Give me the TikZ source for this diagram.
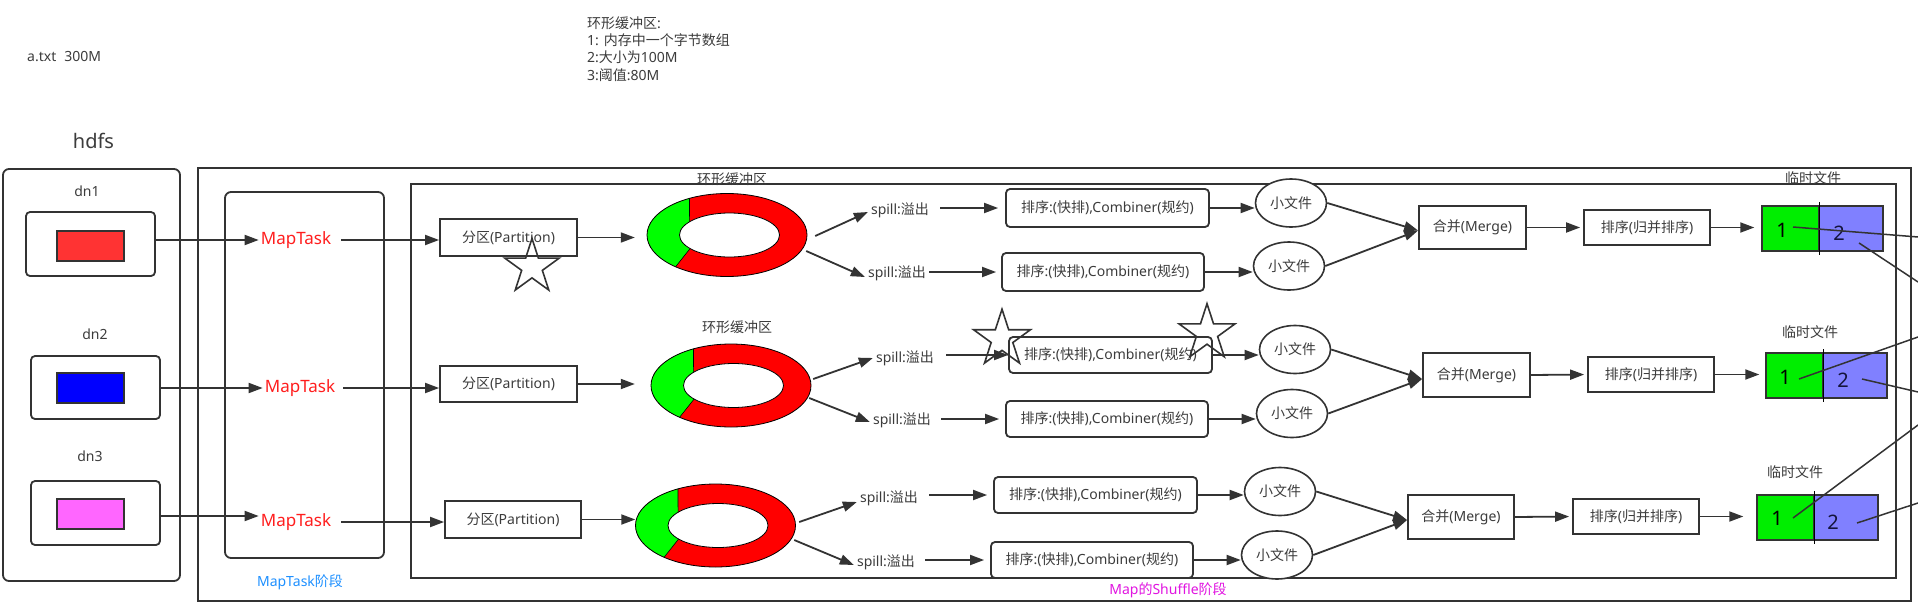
\documentclass[tikz,border=0pt]{standalone}
\usepackage{fontspec}
\setmainfont{Noto Sans}
\newfontfamily\cj{Noto Sans CJK SC}
\usetikzlibrary{arrows.meta,shapes.geometric,calc}

\definecolor{ink}{RGB}{51,51,51}
\definecolor{txt}{RGB}{60,60,60}
\definecolor{mtred}{RGB}{255,30,30}
\definecolor{mtblue}{RGB}{30,144,255}
\definecolor{shmag}{RGB}{225,20,225}
\definecolor{ringred}{RGB}{255,0,0}
\definecolor{ringgreen}{RGB}{0,255,0}
\definecolor{fgreen}{RGB}{0,238,0}
\definecolor{fblue}{RGB}{128,128,255}
\definecolor{dnred}{RGB}{255,51,51}
\definecolor{dnblue}{RGB}{0,0,255}
\definecolor{dnpink}{RGB}{255,102,255}
\definecolor{navy2}{RGB}{20,20,60}

\tikzset{
  lbl/.style={font=\fontsize{14}{17}\selectfont, text=txt, inner sep=2pt},
  spl/.style={lbl, inner sep=3pt},
  sqbox/.style={draw=ink, line width=1.8pt, inner sep=0pt, fill=white,
    font=\fontsize{14}{17}\selectfont, text=txt},
  rdbox/.style={sqbox, rounded corners=4pt},
  frame/.style={draw=ink, line width=1.8pt, inner sep=0pt},
  arr/.style={draw=ink, line width=1.8pt, -{Triangle[length=14pt,width=10pt]}},
  fileell/.style={ellipse, draw=ink, line width=1.6pt, fill=white,
    minimum width=71pt, minimum height=48pt, inner sep=0pt,
    font=\fontsize{14}{17}\selectfont, text=txt},
  starsty/.style={draw=ink, line width=1.6pt, line join=miter},
  xline/.style={draw=ink, line width=1.5pt},
  mtlbl/.style={font=\fontsize{17}{20}\selectfont, text=mtred, inner sep=2pt},
  numlbl/.style={font=\fontsize{20}{24}\selectfont, inner sep=1pt},
  gblk/.style={draw=ink, line width=1.4pt, fill=fgreen, minimum width=57pt, minimum height=45pt, inner sep=0pt},
  bblk/.style={draw=ink, line width=1.4pt, fill=fblue, minimum width=64pt, minimum height=45pt, inner sep=0pt},
}

\newcommand\ringbuf[3]{%
  \coordinate (#1c) at (#2,#3);
  \coordinate (#1i) at ({#2+2.5},#3);
  \fill[ringred, even odd rule] (#1c) ellipse[x radius=80, y radius=41.5]
     (#1i) ellipse[x radius=50, y radius=22];
  \fill[ringgreen] ($(#1c)+(-118:80 and 41.5)$)
     arc[start angle=-118, end angle=-230, x radius=80, y radius=41.5]
     -- ($(#1i)+(-218:50 and 22)$)
     arc[start angle=-218, end angle=-143, x radius=50, y radius=22] -- cycle;
  \draw[black, line width=0.8pt] (#1c) ellipse[x radius=80, y radius=41.5];
  \draw[black, line width=0.8pt, fill=white] (#1i) ellipse[x radius=50, y radius=22];
  \draw[black, line width=0.6pt] ($(#1c)+(-118:80 and 41.5)$) -- ($(#1i)+(-143:50 and 22)$);
  \draw[black, line width=0.6pt] ($(#1c)+(-230:80 and 41.5)$) -- ($(#1i)+(-218:50 and 22)$);
  \node[ellipse, minimum width=160pt, minimum height=83pt, inner sep=0pt] (#1) at (#1c) {};
}

\newcommand\starshape[3]{%
  \pgfmathsetmacro\starrin{0.382*#3}%
  \draw[starsty, shift={(#1,#2)}] (-90:#3) -- (-54:\starrin) -- (-18:#3) -- (18:\starrin)
    -- (54:#3) -- (90:\starrin) -- (126:#3) -- (162:\starrin) -- (198:#3)
    -- (234:\starrin) -- cycle;}

\begin{document}
\begin{tikzpicture}[x=1pt,y=-1pt]
\useasboundingbox (0,0) rectangle (1918,615);
\fill[white] (0,0) rectangle (1918,615);

% top texts
\node[lbl, anchor=west] (atxt) at (25,57) {a.txt\hspace{8pt}300M};
\node[lbl, anchor=west, align=left, font=\fontsize{14}{17.3}\selectfont] (note) at (585,49)
  {{\cj 环形缓冲区}:\\1: {\cj 内存中一个字节数组}\\2:{\cj 大小为}100M\\3:{\cj 阈值}:80M};
\node[lbl, font=\fontsize{20}{24}\selectfont] (hdfs) at (93.5,141) {hdfs};

% containers
\node[frame, rounded corners=6pt, minimum width=177pt, minimum height=412pt] (hdfsbox) at (91.5,375) {};
\node[frame, minimum width=1713pt, minimum height=433pt] (shufouter) at (1054.5,384.5) {};
\node[frame, rounded corners=6pt, minimum width=159pt, minimum height=366pt] (mtbox) at (304.5,375) {};
\node[frame, minimum width=1485pt, minimum height=394pt] (shufinner) at (1153.5,381) {};
\node[lbl, text=mtblue] (mtstage) at (300,582) {MapTask{\cj 阶段}};
\node[lbl, text=shmag] (shstage) at (1168,590) {Map{\cj 的}Shuffle{\cj 阶段}};

% datanodes
\node[lbl] (dn1) at (87,191) {dn1};
\node[lbl] (dn2) at (95,334) {dn2};
\node[lbl] (dn3) at (90,456) {dn3};
\node[frame, rounded corners=4pt, minimum width=129pt, minimum height=64pt] (dn1box) at (90.5,244) {};
\node[frame, rounded corners=4pt, minimum width=129pt, minimum height=63pt] (dn2box) at (95.5,387.5) {};
\node[frame, rounded corners=4pt, minimum width=129pt, minimum height=64pt] (dn3box) at (95.5,513) {};
\node[frame, line width=1.6pt, fill=dnred, minimum width=67pt, minimum height=30pt] (blk1) at (90.5,246) {};
\node[frame, line width=1.6pt, fill=dnblue, minimum width=67pt, minimum height=30pt] (blk2) at (90.5,388) {};
\node[frame, line width=1.6pt, fill=dnpink, minimum width=67pt, minimum height=30pt] (blk3) at (90.5,514) {};

% MapTasks
\node[mtlbl] (mt1) at (296,240) {MapTask};
\node[mtlbl] (mt2) at (300,388) {MapTask};
\node[mtlbl] (mt3) at (296,522) {MapTask};

% partitions
\node[sqbox, minimum width=137pt, minimum height=37pt] (p1) at (508.5,237.5) {{\cj 分区}(Partition)};
\node[sqbox, minimum width=137pt, minimum height=36pt] (p2) at (508.5,384) {{\cj 分区}(Partition)};
\node[sqbox, minimum width=136pt, minimum height=37pt] (p3) at (513,519.5) {{\cj 分区}(Partition)};

% rings
\ringbuf{r1}{727}{235}
\ringbuf{r2}{731}{385.5}
\ringbuf{r3}{715.5}{525.5}
\node[lbl] (rl1) at (732,179) {\cj 环形缓冲区};
\node[lbl] (rl2) at (737,327) {\cj 环形缓冲区};

% spill labels
\node[spl] (s11) at (900,210) {spill:{\cj 溢出}};
\node[spl] (s12) at (897,273) {spill:{\cj 溢出}};
\node[spl] (s21) at (905,358) {spill:{\cj 溢出}};
\node[spl] (s22) at (902,420) {spill:{\cj 溢出}};
\node[spl] (s31) at (889,498) {spill:{\cj 溢出}};
\node[spl] (s32) at (886,562) {spill:{\cj 溢出}};

% sort (quick) boxes
\newcommand\qsort{{\cj 排序}:({\cj 快排}),Combiner({\cj 规约})}
\node[rdbox, minimum width=203pt, minimum height=38pt] (c11) at (1107.5,208) {\qsort};
\node[rdbox, minimum width=202pt, minimum height=38pt] (c12) at (1103,272) {\qsort};
\node[rdbox, minimum width=203pt, minimum height=36pt] (c21) at (1110.5,355) {\qsort};
\node[rdbox, minimum width=202pt, minimum height=36pt] (c22) at (1107,419) {\qsort};
\node[rdbox, minimum width=203pt, minimum height=36pt] (c31) at (1095.5,495) {\qsort};
\node[rdbox, minimum width=202pt, minimum height=36pt] (c32) at (1092,560) {\qsort};

% small files
\node[fileell] (f11) at (1291,203) {\cj 小文件};
\node[fileell] (f12) at (1289,266) {\cj 小文件};
\node[fileell] (f21) at (1295,349.5) {\cj 小文件};
\node[fileell] (f22) at (1292,413.5) {\cj 小文件};
\node[fileell] (f31) at (1280,491.5) {\cj 小文件};
\node[fileell] (f32) at (1277,555) {\cj 小文件};

% merges
\node[sqbox, minimum width=107pt, minimum height=43pt] (m1) at (1472.5,227.5) {{\cj 合并}(Merge)};
\node[sqbox, minimum width=107pt, minimum height=44pt] (m2) at (1476.5,375) {{\cj 合并}(Merge)};
\node[sqbox, minimum width=106pt, minimum height=44pt] (m3) at (1461,517) {{\cj 合并}(Merge)};

% merge sorts
\node[sqbox, minimum width=126pt, minimum height=35pt] (g1) at (1647,227.5) {{\cj 排序}({\cj 归并排序})};
\node[sqbox, minimum width=126pt, minimum height=35pt] (g2) at (1651,374.5) {{\cj 排序}({\cj 归并排序})};
\node[sqbox, minimum width=126pt, minimum height=35pt] (g3) at (1636,516.5) {{\cj 排序}({\cj 归并排序})};

% temp files
\node[lbl] (tl1) at (1813,178) {\cj 临时文件};
\node[lbl] (tl2) at (1810,332) {\cj 临时文件};
\node[lbl] (tl3) at (1795,472) {\cj 临时文件};
\node[gblk] (gr1) at (1790.5,228.5) {};
\node[bblk] (bl1) at (1851,228.5) {};
\node[gblk] (gr2) at (1794.5,375.5) {};
\node[bblk] (bl2) at (1855,375.5) {};
\node[gblk] (gr3) at (1785.5,517.5) {};
\node[bblk] (bl3) at (1846,517.5) {};
\foreach \g in {gr1,gr2,gr3}{
  \draw[black, line width=1pt] ([yshift=3pt]\g.north east) -- ([yshift=-3pt]\g.south east);
}
\node[numlbl] (n11) at (1782,230) {1};
\node[numlbl, text=navy2] (n12) at (1839,233) {2};
\node[numlbl] (n21) at (1785,377) {1};
\node[numlbl, text=navy2] (n22) at (1843,380) {2};
\node[numlbl] (n31) at (1777,518) {1};
\node[numlbl, text=navy2] (n32) at (1833,522) {2};

% ---- connectors ----
\draw[arr] (dn1box.east |- mt1.west) -- (mt1.west);
\draw[arr] (dn2box.east |- mt2.west) -- (mt2.west);
\draw[arr] (dn3box.east |- 0,516) -- (mt3.west |- 0,516);
\draw[arr, shorten <=8pt] (mt1.east) -- (p1.west |- mt1.east);
\draw[arr, shorten <=6pt] (mt2.east) -- (p2.west |- mt2.east);
\draw[arr, shorten <=8pt] (mt3.east) -- (p3.west |- mt3.east);

\draw[arr, shorten >=12pt] (p1.east) -- (p1.east -| r1.west);
\draw[arr, shorten >=16pt] (p2.east) -- (p2.east -| r2.west);
\draw[arr] (p3.east) -- (p3.east -| r3.west);

\draw[arr] (r1.east) ++(8,1) -- ([yshift=-2pt]s11.west);
\draw[arr] (r1.east) ++(-1,16) -- ([yshift=-4pt]s12.west);
\draw[arr] (r2.east) ++(2,-6.5) -- (s21.west);
\draw[arr] (r2.east) ++(-2,12.5) -- ([yshift=-2pt]s22.west);
\draw[arr] (r3.east) ++(3.5,-3.5) -- ([yshift=-4pt]s31.west);
\draw[arr] (r3.east) ++(-1.5,14.5) -- ([yshift=-3pt]s32.west);

\draw[arr, shorten <=8pt, shorten >=7pt] (s11.east |- c11.west) -- (c11.west);
\draw[arr, shorten >=5pt] (s12.east |- c12.west) -- (c12.west);
\draw[arr, shorten <=9pt] (s21.east |- c21.west) -- (c21.west);
\draw[arr, shorten <=7pt, shorten >=6pt] (s22.east |- c22.west) -- (c22.west);
\draw[arr, shorten <=8pt, shorten >=6pt] (s31.east |- c31.west) -- (c31.west);
\draw[arr, shorten <=7pt, shorten >=6pt] (s32.east |- c32.west) -- (c32.west);

\draw[arr] (c11.east) -- (c11.east -| f11.west);
\draw[arr] (c12.east) -- (c12.east -| f12.west);
\draw[arr] (c21.east) -- (c21.east -| f21.west);
\draw[arr] (c22.east) -- (c22.east -| f22.west);
\draw[arr] (c31.east) -- (c31.east -| f31.west);
\draw[arr] (c32.east) -- (c32.east -| f32.west);

\draw[arr] (f11.east) -- ([yshift=-3pt]m1.west);
\draw[arr] (f12.east) -- ([yshift=-3pt]m1.west);
\draw[arr] (f21.east) -- ([yshift=-4pt]m2.west);
\draw[arr] (f22.east) -- ([yshift=-4pt]m2.west);
\draw[arr] (f31.east) -- ([yshift=-3pt]m3.west);
\draw[arr] (f32.east) -- ([yshift=-3pt]m3.west);

\draw[arr, shorten >=3pt] (m1.east) -- (g1.west);
\draw[arr, shorten >=3pt] (m2.east) -- (g2.west);
\draw[arr, shorten >=3pt] (m3.east) -- (g3.west);
\draw[arr, shorten >=7pt] (g1.east) -- (gr1.west |- g1.east);
\draw[arr, shorten >=6pt] (g2.east) -- (gr2.west |- g2.east);
\draw[arr, shorten >=13pt] (g3.east) -- (gr3.west |- g3.east);

% crossing lines to the right edge
\coordinate (e1) at (1918,237);
\coordinate (e2) at (1918,282);
\coordinate (e3) at (1918,337);
\coordinate (e4) at (1918,392);
\coordinate (e5) at (1918,425);
\coordinate (e6) at (1918,503);
\draw[xline] (n11.center) ++(11,-3) -- (e1);
\draw[xline] (n12.center) ++(20,10) -- (e2);
\draw[xline] (n21.center) ++(14,2) -- (e3);
\draw[xline] (n22.center) ++(19,-1) -- (e4);
\draw[xline] (n31.center) ++(16,0) -- (e5);
\draw[xline] (n32.center) ++(24,1) -- (e6);

% stars
\starshape{532}{267}{28.5}
\starshape{1002}{339}{29.8}
\starshape{1207}{333}{29.3}
\end{tikzpicture}
\end{document}
